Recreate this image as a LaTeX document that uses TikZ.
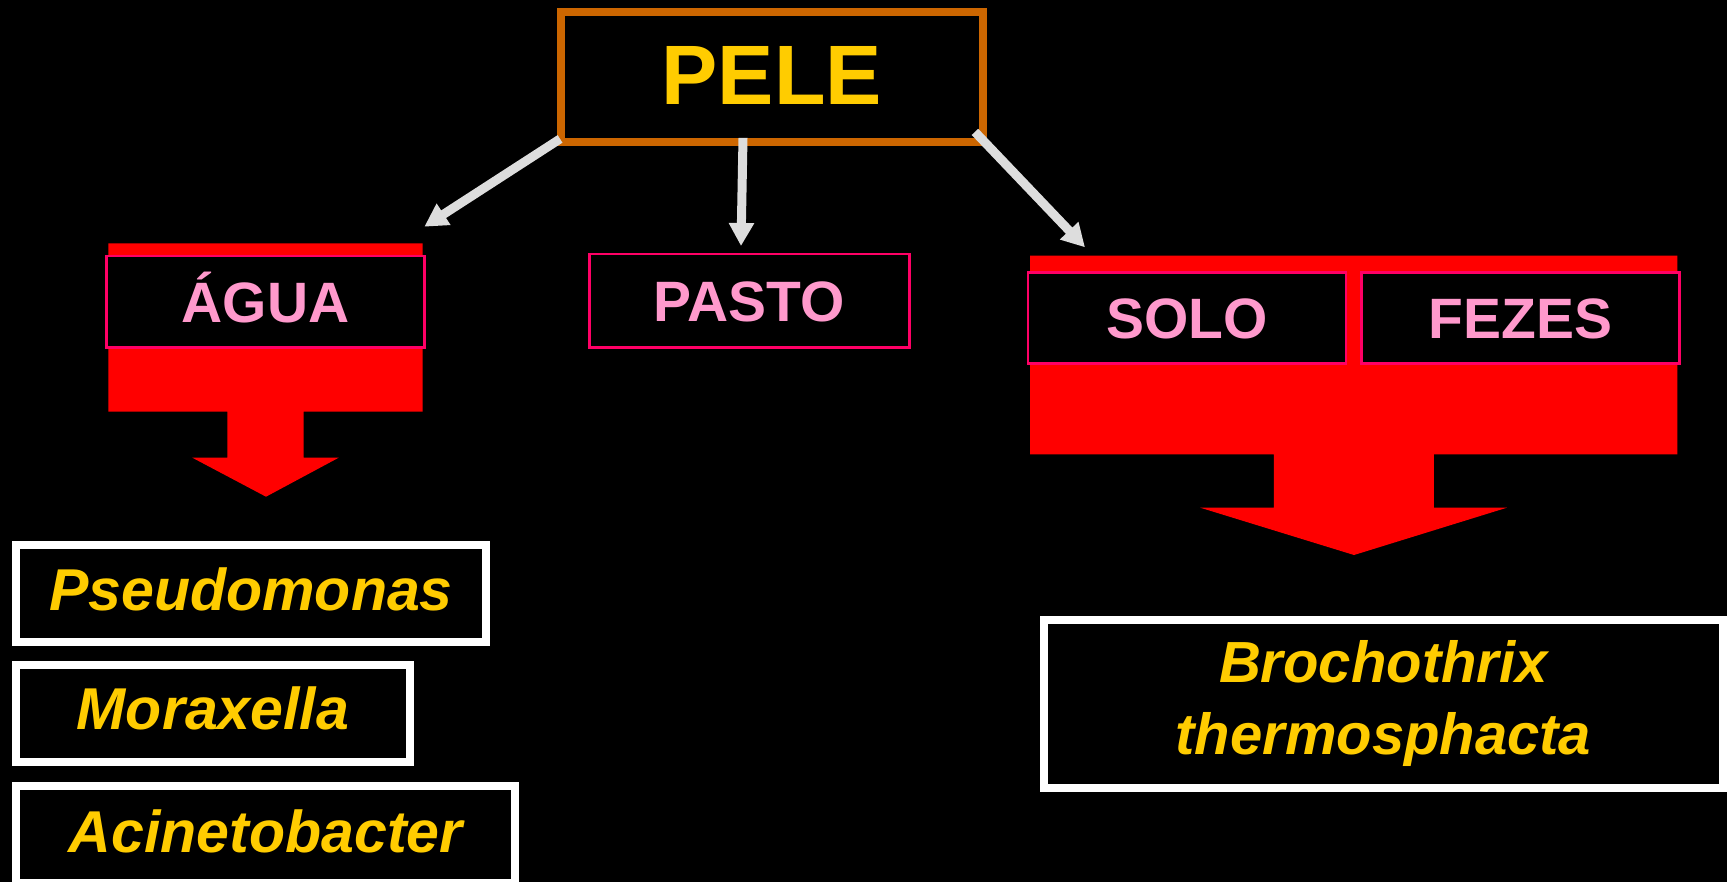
\documentclass[tikz,border=0pt]{standalone}
\usepackage{fontspec}
\setmainfont{Liberation Sans}
\usetikzlibrary{arrows.meta,calc}

\definecolor{peleorange}{HTML}{CC6600}
\definecolor{gold}{HTML}{FFCC00}
\definecolor{rosa}{HTML}{FF99CC}
\definecolor{magentaline}{HTML}{FF0066}
\definecolor{arrowgray}{HTML}{DDDDDD}
\definecolor{vermelho}{HTML}{FF0000}

\begin{document}
\begin{tikzpicture}[x=0.1mm,y=-0.1mm,
  pelebox/.style={draw=peleorange,line width=0.8mm,fill=black,inner sep=0pt,
    text=gold,font=\fontsize{24}{28}\selectfont\bfseries,
    text height=17.2pt,text depth=0.5mm},
  sourcebox/.style={draw=magentaline,line width=0.25mm,fill=black,inner sep=0pt,
    text=rosa,font=\fontsize{16.2}{19}\selectfont\bfseries,
    text height=11.6pt,text depth=0pt,minimum height=9.15mm},
  whitebox/.style={draw=white,line width=0.8mm,fill=black,inner sep=0pt,text=gold},
  organismbox/.style={whitebox,font=\fontsize{16.8}{20}\selectfont\bfseries\itshape,
    text height=12pt,minimum height=9.72mm},
  flow/.style={draw=arrowgray,line width=0.9mm,
    -{Triangle[width=2.4mm,length=2.3mm]}},
  bigarrow/.style={fill=vermelho}
]
% canvas
\useasboundingbox (0,0) rectangle (1727,882);
\clip (0,0) rectangle (1727,882);
\fill[black] (0,0) rectangle (1727,882);

% red block arrows behind the source labels
\fill[bigarrow] (108.3,243.3) -- (422.7,243.3) -- (422.7,411.7) -- (303.7,411.7)
  -- (303.7,457.7) -- (338.7,457.7) -- (266,496.7) -- (192.3,457.7)
  -- (227.3,457.7) -- (227.3,411.7) -- (108.3,411.7) -- cycle;
\fill[bigarrow] (1030,255.7) -- (1677.4,255.7) -- (1677.4,454.3) -- (1433.9,454.3)
  -- (1433.9,507.7) -- (1506.9,507.7) -- (1354,555) -- (1200.3,507.7)
  -- (1273.8,507.7) -- (1273.8,454.3) -- (1030,454.3) -- cycle;

% top node
\node[pelebox,minimum width=42.23mm,minimum height=12.94mm] (pele) at (771.8,77) {PELE};

% sources
\node[sourcebox,minimum width=31.76mm] (agua) at (265.5,301.85) {ÁGUA};
\node[sourcebox,minimum width=32mm,minimum height=9.33mm] (pasto) at (749.3,300.65) {PASTO};
\node[sourcebox,minimum width=31.79mm,minimum height=9.14mm] (solo) at (1187.05,318) {SOLO};
\node[sourcebox,minimum width=31.83mm,minimum height=9.14mm] (fezes) at (1520.45,318) {FEZES};

% organisms
\node[organismbox,minimum width=46.91mm,text depth=0.8mm] (pseudomonas) at (250.95,593.1) {Pseudomonas};
\node[organismbox,minimum width=39.32mm,text depth=0.86mm] (moraxella) at (213,713.1) {Moraxella};
\node[organismbox,minimum width=49.86mm,text depth=0.62mm] (acinetobacter) at (265.7,834.8) {Acinetobacter};
\node[whitebox,minimum width=67.92mm,minimum height=16.77mm,align=center,
  font=\fontsize{16.5}{20.5}\selectfont\bfseries\itshape]
  (brochothrix) at (1383.4,703.65) {Brochothrix\\thermosphacta};

% arrow tips
\coordinate (tipL) at (424.3,226.7);
\coordinate (tipM) at (741,246);
\coordinate (tipR) at (1085,247.3);

% connectors from PELE
\draw[flow] ($(pele.south west)+(3.4,-6.8)$) -- (tipL);
\draw[flow] ($(pele.south)+(-28.8,-7.8)$) -- (tipM);
\draw[flow] ($(pele.south east)+(-12,-13.8)$) -- (tipR);
\end{tikzpicture}
\end{document}
